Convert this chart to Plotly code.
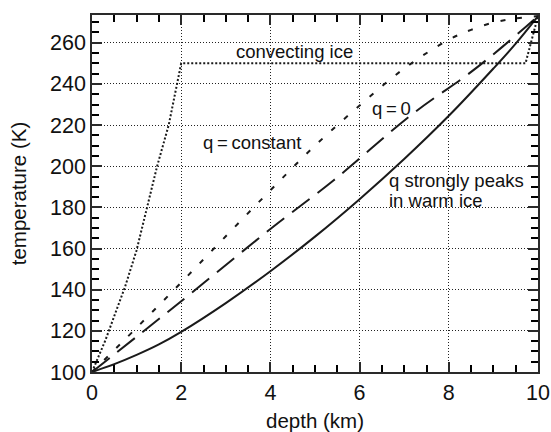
import plotly.graph_objects as go

# --- data ---
conv_depth = [0, 0.3, 0.52, 0.74, 1.0, 1.24, 1.46, 1.72, 1.91, 2.0, 9.72, 10]
conv_temp = [100, 115.4, 128.4, 141.3, 159.2, 180, 200, 220, 240, 250, 250, 273]

qconst_depth = [0, 1, 2, 3, 4, 5, 6, 7, 8, 8.5, 9, 9.5, 10]
qconst_temp = [100, 121.5, 143.5, 166, 188.3, 210, 229.5, 247.5, 261.5, 266.3, 269.8, 271.8, 273]

q0_depth = [0, 2, 4, 5.42, 7.18, 8.45, 9.2, 10]
q0_temp = [100, 134.4, 169.5, 193.2, 225.3, 245, 258, 273]

peak_depth = [0, 0.5, 1, 1.5, 2, 3, 4, 5, 6, 7, 8, 9, 9.5, 10]
peak_temp = [100, 103.8, 108.3, 113.4, 119.5, 133.5, 149, 165.8, 184, 203.5, 224.5, 247.5, 259.6, 273]

X_RANGE = [0, 10]
Y_RANGE = [100, 273.5]

FONT = "Liberation Sans, Arial, Helvetica, sans-serif"
LINE = "#1a1a1a"
FRAME = "#2a2a2a"

fig = go.Figure()
fig.add_trace(go.Scatter(x=conv_depth, y=conv_temp, mode="lines",
                         line=dict(color=LINE, width=2, dash="2px,2px")))
fig.add_trace(go.Scatter(x=qconst_depth, y=qconst_temp, mode="lines", line_shape="spline",
                         line=dict(color=LINE, width=2, dash="5px,12px")))
fig.add_trace(go.Scatter(x=q0_depth, y=q0_temp, mode="lines", line_shape="spline",
                         line=dict(color=LINE, width=2, dash="22px,10px")))
fig.add_trace(go.Scatter(x=peak_depth, y=peak_temp, mode="lines", line_shape="spline",
                         line=dict(color=LINE, width=2)))
# invisible trace that attaches the dotted-grid overlay axes
fig.add_trace(go.Scatter(x=[X_RANGE[0]], y=[Y_RANGE[0]], xaxis="x2", yaxis="y2",
                         mode="markers", marker=dict(opacity=0), hoverinfo="skip"))

ann_font = dict(family=FONT, size=18.5, color="#111")
anns = [
    dict(x=4.55, y=255.6, text="convecting ice", xanchor="center", yanchor="middle"),
    dict(x=6.71, y=228.3, text="q\u2009=\u20090", xanchor="center", yanchor="middle"),
    dict(x=3.58, y=211.4, text="q\u2009=\u2009constant", xanchor="center", yanchor="middle"),
    dict(x=6.64, y=192.9, text="q strongly peaks", xanchor="left", yanchor="middle"),
    dict(x=6.64, y=183.2, text="in warm ice", xanchor="left", yanchor="middle"),
]
for a in anns:
    fig.add_annotation(**a, showarrow=False, font=ann_font, xref="x", yref="y", borderpad=0)

# main axes: frame, major + minor ticks, labels (no grid)
axis_common = dict(
    showline=True, linecolor=FRAME, linewidth=1.5, mirror="allticks",
    ticks="inside", ticklen=10, tickwidth=2, tickcolor=FRAME,
    showgrid=False, zeroline=False,
    tickfont=dict(family=FONT, size=21.5, color="#111"),
    automargin=False,
)
# overlay axes: dotted grid only
grid_common = dict(
    showline=False, ticks="", showticklabels=False, zeroline=False,
    showgrid=True, gridcolor="#222", griddash="1px,2px", gridwidth=1,
    automargin=False,
)

fig.update_layout(
    xaxis=dict(range=X_RANGE, tickmode="linear", tick0=0, dtick=2,
               minor=dict(dtick=0.5, ticks="inside", ticklen=7, tickcolor="black", tickwidth=2),
               title=dict(text="depth (km)", font=dict(family=FONT, size=20.5, color="#111"), standoff=14),
               **axis_common),
    yaxis=dict(range=Y_RANGE, tickmode="linear", tick0=100, dtick=20,
               minor=dict(dtick=5, ticks="inside", ticklen=7, tickcolor="black", tickwidth=2),
               title=dict(text="temperature (K)", font=dict(family=FONT, size=20.5, color="#111"), standoff=18),
               **axis_common),
    xaxis2=dict(range=X_RANGE, overlaying="x", anchor="y2", side="bottom",
                tickmode="linear", tick0=0, dtick=2, **grid_common),
    yaxis2=dict(range=Y_RANGE, overlaying="y", anchor="x2", side="left",
                tickmode="linear", tick0=100, dtick=20, **grid_common),
    width=551, height=432, margin=dict(l=92, r=13, t=15, b=60),
    plot_bgcolor="white", paper_bgcolor="white", showlegend=False,
)

fig.write_html("out.html")
